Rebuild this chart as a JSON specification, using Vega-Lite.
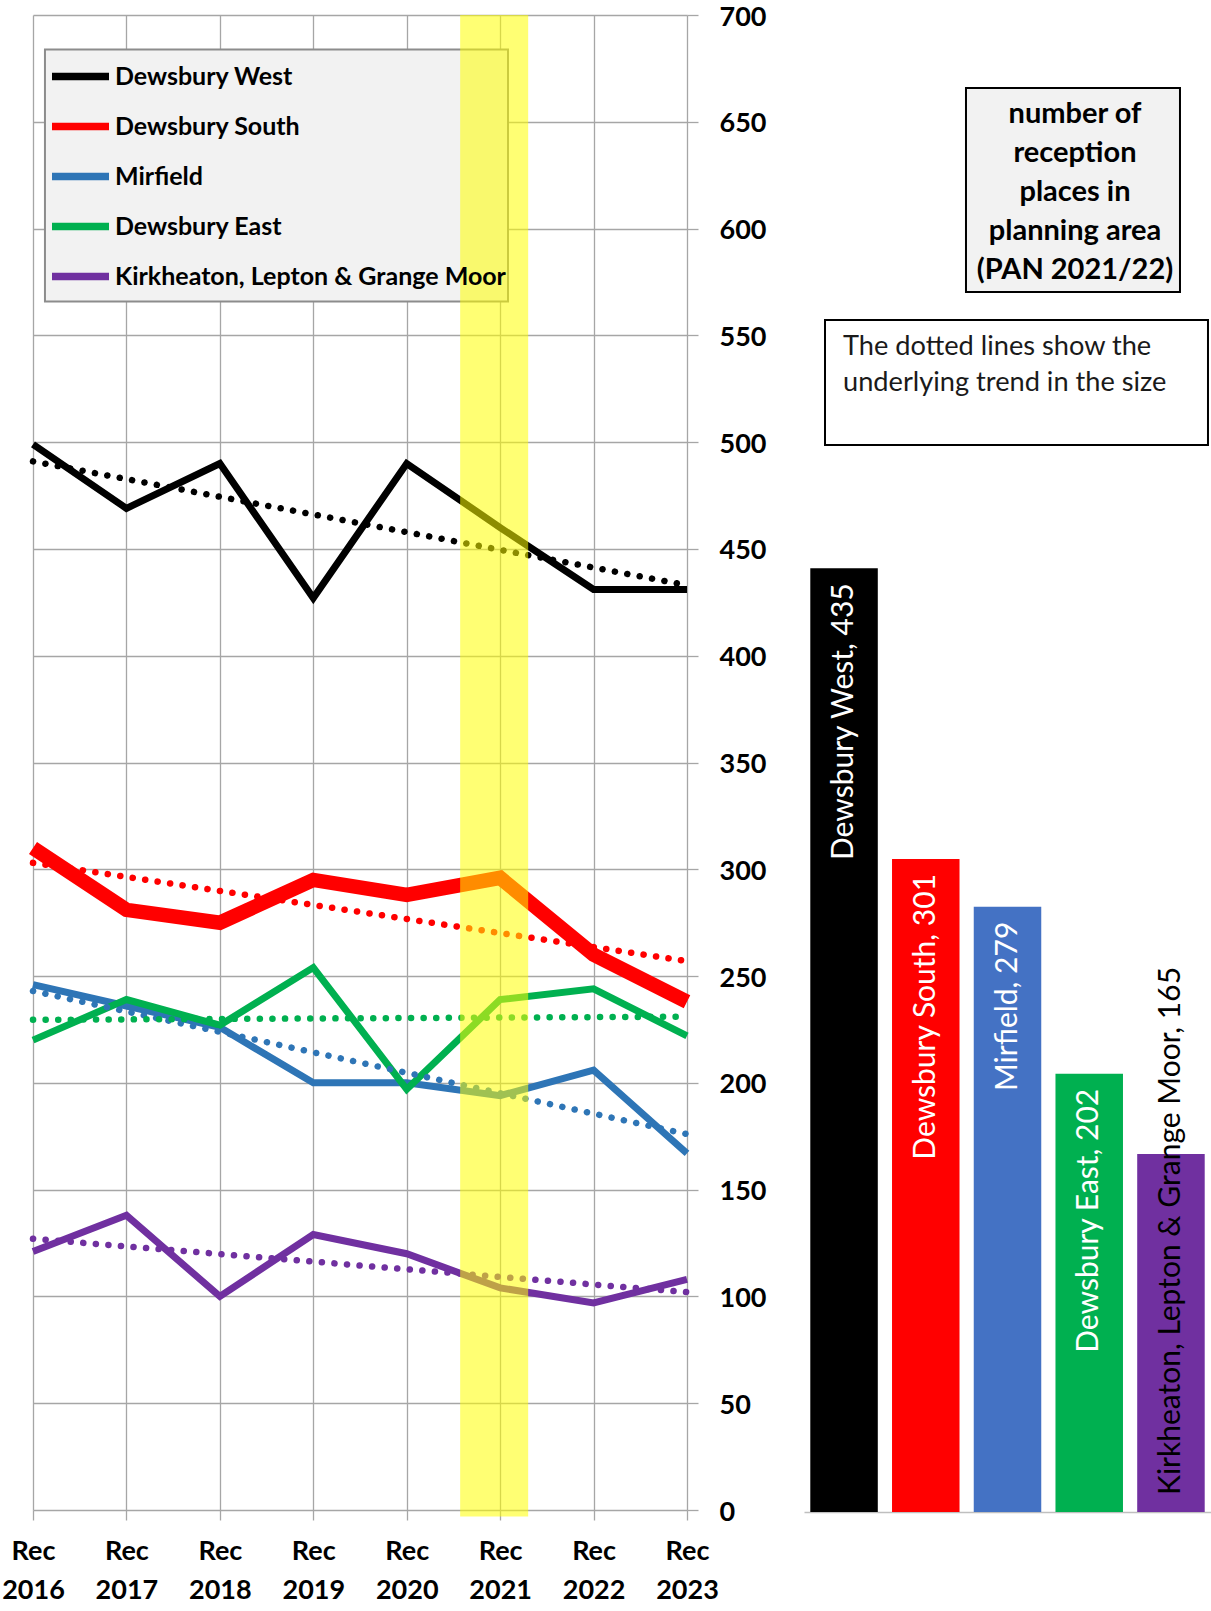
{
  "$schema": "https://vega.github.io/schema/vega-lite/v6.json",
  "background": "white",
  "padding": {"left": 1, "top": 3, "right": 0, "bottom": 0},
  "config": {"view": {"stroke": null}, "font": "Lato"},
  "bounds": "flush",
  "spacing": 117,
  "resolve": {"scale": {"color": "independent", "x": "independent", "y": "independent"}},
  "datasets": {
    "series": [
      {"area": "Dewsbury West", "year": 2016, "value": 499},
      {"area": "Dewsbury West", "year": 2017, "value": 469},
      {"area": "Dewsbury West", "year": 2018, "value": 490},
      {"area": "Dewsbury West", "year": 2019, "value": 427},
      {"area": "Dewsbury West", "year": 2020, "value": 490},
      {"area": "Dewsbury West", "year": 2021, "value": 460},
      {"area": "Dewsbury West", "year": 2022, "value": 431},
      {"area": "Dewsbury West", "year": 2023, "value": 431},
      {"area": "Dewsbury South", "year": 2016, "value": 310},
      {"area": "Dewsbury South", "year": 2017, "value": 281},
      {"area": "Dewsbury South", "year": 2018, "value": 275},
      {"area": "Dewsbury South", "year": 2019, "value": 295},
      {"area": "Dewsbury South", "year": 2020, "value": 288},
      {"area": "Dewsbury South", "year": 2021, "value": 296},
      {"area": "Dewsbury South", "year": 2022, "value": 260},
      {"area": "Dewsbury South", "year": 2023, "value": 238},
      {"area": "Mirfield", "year": 2016, "value": 246},
      {"area": "Mirfield", "year": 2017, "value": 236},
      {"area": "Mirfield", "year": 2018, "value": 226},
      {"area": "Mirfield", "year": 2019, "value": 200},
      {"area": "Mirfield", "year": 2020, "value": 200},
      {"area": "Mirfield", "year": 2021, "value": 194},
      {"area": "Mirfield", "year": 2022, "value": 206},
      {"area": "Mirfield", "year": 2023, "value": 167},
      {"area": "Dewsbury East", "year": 2016, "value": 220},
      {"area": "Dewsbury East", "year": 2017, "value": 239},
      {"area": "Dewsbury East", "year": 2018, "value": 227},
      {"area": "Dewsbury East", "year": 2019, "value": 254},
      {"area": "Dewsbury East", "year": 2020, "value": 197},
      {"area": "Dewsbury East", "year": 2021, "value": 239},
      {"area": "Dewsbury East", "year": 2022, "value": 244},
      {"area": "Dewsbury East", "year": 2023, "value": 222},
      {"area": "Kirkheaton, Lepton & Grange Moor", "year": 2016, "value": 121},
      {"area": "Kirkheaton, Lepton & Grange Moor", "year": 2017, "value": 138},
      {"area": "Kirkheaton, Lepton & Grange Moor", "year": 2018, "value": 100},
      {"area": "Kirkheaton, Lepton & Grange Moor", "year": 2019, "value": 129},
      {"area": "Kirkheaton, Lepton & Grange Moor", "year": 2020, "value": 120},
      {"area": "Kirkheaton, Lepton & Grange Moor", "year": 2021, "value": 104},
      {"area": "Kirkheaton, Lepton & Grange Moor", "year": 2022, "value": 97},
      {"area": "Kirkheaton, Lepton & Grange Moor", "year": 2023, "value": 108}
    ],
    "trend": [
      {"area": "Dewsbury West", "year": 2016, "value": 491},
      {"area": "Dewsbury West", "year": 2023, "value": 433},
      {"area": "Dewsbury South", "year": 2016, "value": 303},
      {"area": "Dewsbury South", "year": 2023, "value": 257},
      {"area": "Mirfield", "year": 2016, "value": 243},
      {"area": "Mirfield", "year": 2023, "value": 176},
      {"area": "Dewsbury East", "year": 2016, "value": 229.5},
      {"area": "Dewsbury East", "year": 2023, "value": 231},
      {"area": "Kirkheaton, Lepton & Grange Moor", "year": 2016, "value": 127},
      {"area": "Kirkheaton, Lepton & Grange Moor", "year": 2023, "value": 102}
    ],
    "pan": [
      {"area": "Dewsbury West", "places": 435, "label": "Dewsbury West, 435"},
      {"area": "Dewsbury South", "places": 301, "label": "Dewsbury South, 301"},
      {"area": "Mirfield", "places": 279, "label": "Mirfield, 279"},
      {"area": "Dewsbury East", "places": 202, "label": "Dewsbury East, 202"},
      {"area": "Kirkheaton, Lepton & Grange Moor", "places": 165, "label": "Kirkheaton, Lepton & Grange Moor, 165"}
    ]
  },
  "hconcat": [
    {
      "width": 654,
      "height": 1495,
      "layer": [
        {
          "data": {"values": [{"box": "legend background"}]},
          "mark": {"type": "rect", "fill": "#F2F2F2", "stroke": "#8C8C8C", "strokeWidth": 2},
          "encoding": {
            "x": {"datum": 2016.128, "type": "quantitative"},
            "x2": {"datum": 2021.084},
            "y": {"datum": 683.8, "type": "quantitative"},
            "y2": {"datum": 565.8}
          }
        },
        {
          "data": {"name": "series"},
          "mark": {"type": "line", "strokeJoin": "miter"},
          "encoding": {
            "x": {
              "field": "year", "type": "quantitative",
              "scale": {"domain": [2016, 2023], "nice": false, "zero": false},
              "axis": {
                "title": null, "format": "d",
                "values": [2016, 2017, 2018, 2019, 2020, 2021, 2022, 2023],
                "labelExpr": "['Rec', datum.label]",
                "labelFlush": false, "labelOverlap": false,
                "grid": true, "gridColor": "#A6A6A6", "gridWidth": 1.3,
                "domain": false,
                "tickColor": "#A6A6A6", "tickWidth": 1.3, "tickSize": 10,
                "labelPadding": 18, "labelFont": "Lato", "labelFontSize": 27,
                "labelFontWeight": "bold", "labelColor": "black", "labelLineHeight": 39
              }
            },
            "y": {
              "field": "value", "type": "quantitative",
              "scale": {"domain": [0, 700], "nice": false},
              "axis": {
                "title": null, "orient": "right",
                "values": [0, 50, 100, 150, 200, 250, 300, 350, 400, 450, 500, 550, 600, 650, 700],
                "grid": true, "gridColor": "#A6A6A6", "gridWidth": 1.3,
                "domain": false,
                "tickColor": "#A6A6A6", "tickWidth": 1.3, "tickSize": 11,
                "labelPadding": 21, "labelOffset": 2, "labelFont": "Lato", "labelFontSize": 27,
                "labelFontWeight": "bold", "labelColor": "black"
              }
            },
            "color": {
              "field": "area", "type": "nominal",
              "scale": {
                "domain": ["Dewsbury West", "Dewsbury South", "Mirfield", "Dewsbury East", "Kirkheaton, Lepton & Grange Moor"],
                "range": ["#000000", "#FF0000", "#2E75B6", "#00B050", "#7030A0"]
              },
              "legend": {
                "title": null, "orient": "none", "legendX": 12, "legendY": 33.5,
                "direction": "vertical",
                "symbolType": "stroke", "symbolSize": 3249, "symbolStrokeWidth": 7.5,
                "labelFont": "Lato", "labelFontSize": 25, "labelFontWeight": "bold",
                "labelColor": "black", "labelOffset": 2, "labelLimit": 600,
                "padding": 3, "rowPadding": 0, "clipHeight": 50,
                "fillColor": null, "strokeColor": null
              }
            },
            "strokeWidth": {
              "field": "area", "type": "nominal",
              "scale": {
                "type": "ordinal",
                "domain": ["Dewsbury West", "Dewsbury South", "Mirfield", "Dewsbury East", "Kirkheaton, Lepton & Grange Moor"],
                "range": [7, 14.5, 7, 7, 7]
              },
              "legend": null
            }
          }
        },
        {
          "data": {"name": "trend"},
          "mark": {"type": "line", "strokeDash": [0.1, 12.5], "strokeCap": "round", "strokeWidth": 6.5},
          "encoding": {
            "x": {"field": "year", "type": "quantitative"},
            "y": {"field": "value", "type": "quantitative"},
            "stroke": {
              "field": "area", "type": "nominal",
              "scale": {
                "domain": ["Dewsbury West", "Dewsbury South", "Mirfield", "Dewsbury East", "Kirkheaton, Lepton & Grange Moor"],
                "range": ["#000000", "#FF0000", "#2E75B6", "#00B050", "#7030A0"]
              },
              "legend": null
            }
          }
        },
        {
          "data": {"values": [{"period": "Rec 2021"}]},
          "mark": {"type": "rect", "color": "#FFFF00", "opacity": 0.55},
          "encoding": {
            "x": {"datum": 2020.572, "type": "quantitative"},
            "x2": {"datum": 2021.3},
            "y": {"datum": 700, "type": "quantitative"},
            "y2": {"datum": -3}
          }
        }
      ]
    },
    {
      "width": 407,
      "height": 1497,
      "resolve": {"scale": {"x": "independent"}, "axis": {"x": "independent"}},
      "layer": [
        {
          "data": {"name": "pan"},
          "layer": [
            {
              "mark": {"type": "bar"},
              "encoding": {
                "x": {
                  "field": "area", "type": "nominal", "sort": null,
                  "scale": {"paddingInner": 0.174, "paddingOuter": 0.077},
                  "axis": {"title": null, "labels": false, "ticks": false, "grid": false, "domainColor": "#BFBFBF", "domainWidth": 1.5}
                },
                "y": {"field": "places", "type": "quantitative", "scale": {"domain": [0, 690], "nice": false}, "axis": null},
                "color": {
                  "field": "area", "type": "nominal",
                  "scale": {
                    "domain": ["Dewsbury West", "Dewsbury South", "Mirfield", "Dewsbury East", "Kirkheaton, Lepton & Grange Moor"],
                    "range": ["#000000", "#FF0000", "#4472C4", "#00B050", "#7030A0"]
                  },
                  "legend": null
                }
              }
            },
            {
              "transform": [{"filter": "datum.area != 'Kirkheaton, Lepton & Grange Moor'"}],
              "mark": {"type": "text", "angle": 270, "align": "right", "baseline": "middle", "dx": -15, "color": "white", "font": "Lato", "fontSize": 30},
              "encoding": {
                "x": {"field": "area", "type": "nominal", "sort": null},
                "y": {"field": "places", "type": "quantitative"},
                "text": {"field": "label"}
              }
            },
            {
              "transform": [{"filter": "datum.area == 'Kirkheaton, Lepton & Grange Moor'"}],
              "mark": {"type": "text", "angle": 270, "align": "left", "baseline": "middle", "dx": 17, "color": "black", "font": "Lato", "fontSize": 30},
              "encoding": {
                "x": {"field": "area", "type": "nominal", "sort": null},
                "y": {"datum": 0, "type": "quantitative"},
                "text": {"field": "label"}
              }
            }
          ]
        },
        {
          "data": {"values": [{"note": ["number of", "reception", "places in", "planning area", "(PAN 2021/22)"]}]},
          "layer": [
            {
              "mark": {"type": "rect", "fill": "#F2F2F2", "stroke": "black", "strokeWidth": 2},
              "encoding": {
                "x": {"datum": 0.398, "type": "quantitative", "scale": {"domain": [0, 1], "nice": false, "zero": false}, "axis": null},
                "x2": {"datum": 0.9238},
                "y": {"datum": 656.3, "type": "quantitative"},
                "y2": {"datum": 562.3}
              }
            },
            {
              "mark": {"type": "text", "font": "Lato", "fontWeight": "bold", "fontSize": 29, "lineHeight": 39, "align": "center", "baseline": "alphabetic", "color": "black"},
              "encoding": {
                "x": {"datum": 0.6658, "type": "quantitative"},
                "y": {"datum": 640.1, "type": "quantitative"},
                "text": {"field": "note"}
              }
            }
          ]
        },
        {
          "data": {"values": [{"note": ["The dotted lines show the", "underlying trend in the size"]}]},
          "layer": [
            {
              "mark": {"type": "rect", "fill": "white", "stroke": "black", "strokeWidth": 2},
              "encoding": {
                "x": {"datum": 0.0516, "type": "quantitative", "scale": {"domain": [0, 1], "nice": false, "zero": false}, "axis": null},
                "x2": {"datum": 0.9926},
                "y": {"datum": 549.4, "type": "quantitative"},
                "y2": {"datum": 491.8}
              }
            },
            {
              "mark": {"type": "text", "font": "Lato", "fontSize": 27.2, "lineHeight": 36, "align": "left", "baseline": "alphabetic", "color": "#1a1a1a"},
              "encoding": {
                "x": {"datum": 0.0959, "type": "quantitative"},
                "y": {"datum": 533.2, "type": "quantitative"},
                "text": {"field": "note"}
              }
            }
          ]
        }
      ]
    }
  ]
}
